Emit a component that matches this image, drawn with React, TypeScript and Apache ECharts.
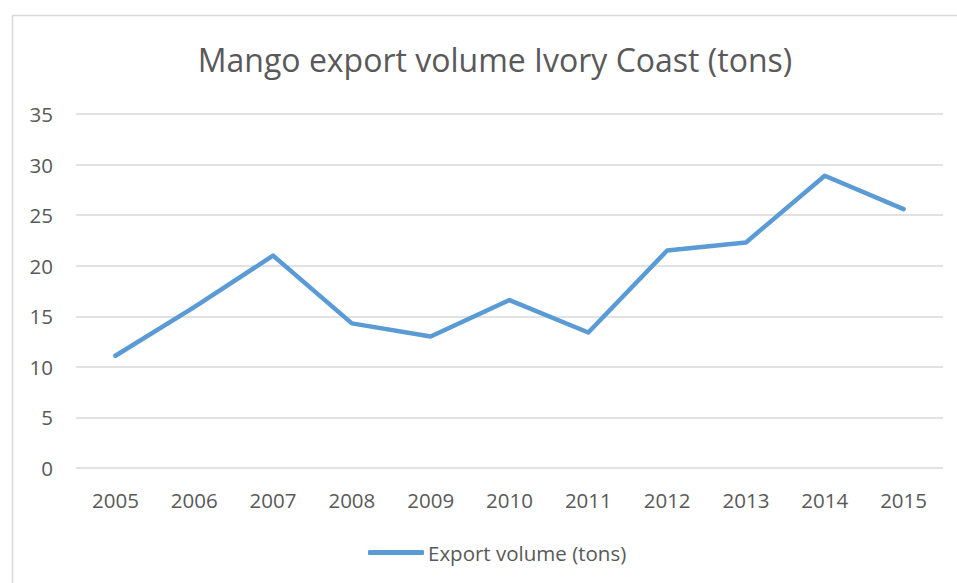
import React, { useEffect, useRef } from "react";
import * as echarts from "echarts";

const years = ["2005", "2006", "2007", "2008", "2009", "2010", "2011", "2012", "2013", "2014", "2015"];
const exportVolume = [11.1, 15.9, 21.0, 14.3, 13.0, 16.6, 13.4, 21.5, 22.3, 28.9, 25.6];
const seriesName = "Export volume (tons)";
const chartTitle = "Mango export volume Ivory Coast (tons)";

const FONT = "'Open Sans', sans-serif";
const TEXT = "#595959";

export default function App() {
  const ref = useRef<HTMLDivElement>(null);
  useEffect(() => {
    if (!ref.current) return;
    const chart = echarts.init(ref.current, null, { renderer: "svg" });
    chart.setOption({
      animation: false,
      backgroundColor: "#ffffff",
      textStyle: { fontFamily: FONT },
      title: {
        text: chartTitle,
        left: 490,
        top: 38,
        textAlign: "center",
        textStyle: { fontFamily: FONT, fontSize: 32, fontWeight: "normal", color: TEXT },
      },
      legend: {
        left: 363,
        top: 537,
        itemWidth: 56,
        itemHeight: 5,
        itemGap: 10,
        icon: "roundRect",
        textStyle: { fontFamily: FONT, fontSize: 20.5, color: TEXT, padding: [0, 0, 0, -1] },
        data: [seriesName],
      },
      graphic: [
        {
          type: "rect",
          shape: { x: 12.5, y: 15.5, width: 980, height: 600 },
          style: { fill: "none", stroke: "#d9d9d9", lineWidth: 1.5 },
          silent: true,
          z: -1,
        },
      ],
      grid: { left: 76, right: 14, top: 114, bottom: 115, containLabel: false },
      xAxis: {
        type: "category",
        data: years,
        boundaryGap: true,
        axisLine: { show: false },
        axisTick: { show: false },
        axisLabel: { color: TEXT, fontSize: 20.5, fontFamily: FONT, margin: 21 },
      },
      yAxis: {
        type: "value",
        min: 0,
        max: 35,
        interval: 5,
        axisLine: { show: false },
        axisTick: { show: false },
        axisLabel: { color: TEXT, fontSize: 20.5, fontFamily: FONT, margin: 23 },
        splitLine: { lineStyle: { color: "#d9d9d9", width: 1.5 } },
      },
      series: [
        {
          name: seriesName,
          type: "line",
          data: exportVolume,
          symbol: "none",
          itemStyle: { color: "#5b9bd5" },
          lineStyle: { color: "#5b9bd5", width: 4.5, cap: "round", join: "round" },
        },
      ],
    });
    return () => chart.dispose();
  }, []);
  return (
    <div
      ref={ref}
      style={{ position: "fixed", left: 0, top: 0, width: 957, height: 583 }}
    />
  );
}
